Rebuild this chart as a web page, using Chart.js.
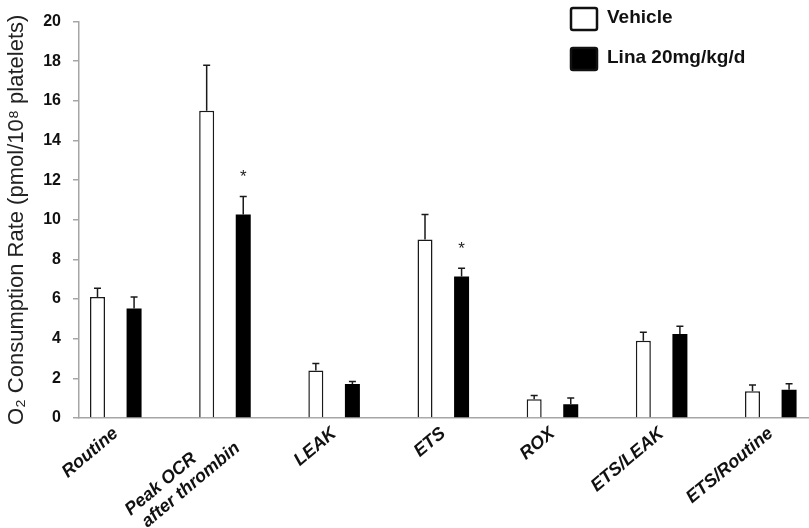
<!DOCTYPE html>
<html>
<head>
<meta charset="utf-8">
<script src="https://cdn.jsdelivr.net/npm/chart.js@4/dist/chart.umd.min.js"></script>
<style>
  html, body { margin: 0; padding: 0; background: #fff; }
  #wrap { width: 809px; height: 528px; }
</style>
</head>
<body>
<div id="wrap"><canvas id="chart" width="809" height="528"></canvas></div>
<script>
const categories = ['Routine', ['Peak OCR        ', 'after thrombin'], 'LEAK', 'ETS', 'ROX', 'ETS/LEAK', 'ETS/Routine'];
const vehicleValues = [6.1, 15.5, 2.4, 9.0, 0.95, 3.9, 1.35];
const vehicleErrors = [0.45, 2.3, 0.35, 1.27, 0.18, 0.43, 0.31];
const linaValues = [5.52, 10.27, 1.71, 7.14, 0.7, 4.24, 1.42];
const linaErrors = [0.59, 0.9, 0.13, 0.42, 0.31, 0.39, 0.31];
const linaSignificant = [false, true, false, true, false, false, false];
const yTicks = [0, 2, 4, 6, 8, 10, 12, 14, 16, 18, 20];
const seriesNames = ['Vehicle', 'Lina 20mg/kg/d'];

const FONT = 'Liberation Sans, Arial, sans-serif';

function toPoints(values) {
  return values.map((v, i) => ({ x: i, y: v }));
}

// upward-only error bars and significance stars
const errorBars = {
  id: 'errorBars',
  afterDatasetsDraw(chart) {
    const { ctx } = chart;
    const y = chart.scales.y;
    ctx.save();
    ctx.strokeStyle = '#1a1a1a';
    ctx.lineWidth = 1.5;
    chart.data.datasets.forEach((ds, di) => {
      const meta = chart.getDatasetMeta(di);
      meta.data.forEach((bar, i) => {
        const top = y.getPixelForValue(ds.data[i].y + ds.errors[i]);
        ctx.beginPath();
        ctx.moveTo(bar.x, bar.y);
        ctx.lineTo(bar.x, top);
        ctx.moveTo(bar.x - 3.5, top);
        ctx.lineTo(bar.x + 3.5, top);
        ctx.stroke();
        if (ds.stars && ds.stars[i]) {
          ctx.fillStyle = '#222';
          ctx.font = '17px ' + FONT;
          ctx.textAlign = 'center';
          ctx.textBaseline = 'middle';
          ctx.fillText('*', bar.x, top - 19);
        }
      });
    });
    ctx.restore();
  }
};

// legend stacked at top right, as in the figure
const boxLegend = {
  id: 'boxLegend',
  afterDraw(chart) {
    const { ctx } = chart;
    ctx.save();
    chart.data.datasets.forEach((ds, i) => {
      const top = 7 + i * 40;
      ctx.beginPath();
      ctx.roundRect(571, top + 1, 26, 22, 2);
      ctx.fillStyle = ds.backgroundColor;
      ctx.fill();
      ctx.lineWidth = 2.5;
      ctx.strokeStyle = '#111';
      ctx.stroke();
      ctx.fillStyle = '#111';
      ctx.font = 'bold 19px ' + FONT;
      ctx.textAlign = 'left';
      ctx.textBaseline = 'middle';
      ctx.fillText(ds.label, 607, top + 11);
    });
    ctx.restore();
  }
};

new Chart(document.getElementById('chart'), {
  type: 'bar',
  data: {
    datasets: [
      {
        label: seriesNames[0],
        data: toPoints(vehicleValues),
        errors: vehicleErrors,
        backgroundColor: '#ffffff',
        borderColor: '#1a1a1a',
        borderWidth: 1.5,
        borderSkipped: 'bottom'
      },
      {
        label: seriesNames[1],
        data: toPoints(linaValues),
        errors: linaErrors,
        stars: linaSignificant,
        backgroundColor: '#000000',
        borderColor: '#000000',
        borderWidth: 0
      }
    ]
  },
  options: {
    responsive: false,
    animation: false,
    categoryPercentage: 0.67,
    barPercentage: 0.41,
    layout: { padding: { top: 9, right: 0, left: 0, bottom: 0 } },
    plugins: { legend: { display: false }, tooltip: { enabled: false } },
    scales: {
      x: {
        type: 'linear',
        offset: false,
        min: -0.337,
        max: 6.35,
        afterBuildTicks: (scale) => { scale.ticks = categories.map((_, i) => ({ value: i })); },
        afterFit: (scale) => { scale.height = 110; },
        grid: { display: false, drawTicks: false, offset: false },
        border: { color: '#a6a6a6', width: 1.5 },
        ticks: {
          autoSkip: false,
          minRotation: 40,
          maxRotation: 40,
          padding: 5,
          color: '#111',
          font: (c) => ({ family: FONT, size: 18, weight: 'bold', style: 'italic', lineHeight: c.index === 1 ? 1.1 : 1.2 }),
          callback: (v) => categories[v]
        }
      },
      y: {
        min: 0,
        max: 20,
        afterBuildTicks: (scale) => { scale.ticks = yTicks.map(v => ({ value: v })); },
        afterFit: (scale) => { scale.width = 79; },
        grid: { drawOnChartArea: false, color: '#a6a6a6', lineWidth: 1.5, tickLength: 6 },
        border: { color: '#a6a6a6', width: 1.5 },
        ticks: {
          padding: 12,
          color: '#111',
          font: { family: FONT, size: 16, weight: 'bold' }
        },
        title: {
          display: true,
          text: 'O\u2082 Consumption Rate (pmol/10\u2078 platelets)',
          color: '#222',
          font: { family: FONT, size: 22 },
          padding: { top: 4, bottom: 4 }
        }
      }
    }
  },
  plugins: [errorBars, boxLegend]
});
</script>
</body>
</html>
